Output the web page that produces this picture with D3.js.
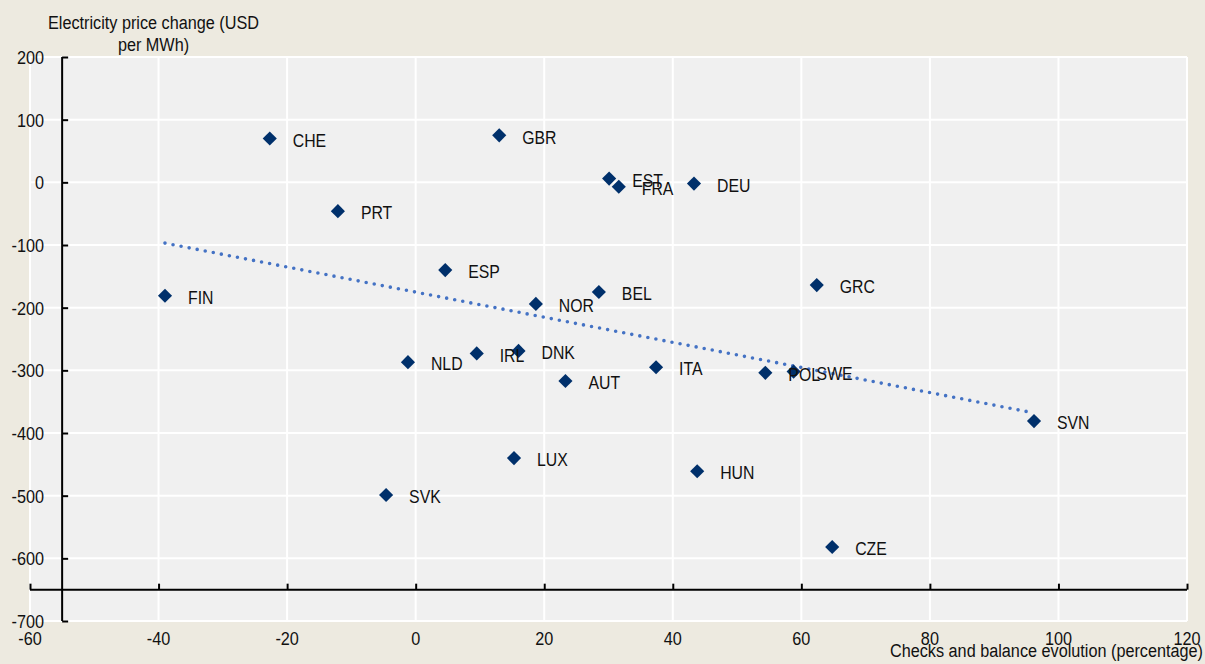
<!DOCTYPE html>
<html>
<head>
<meta charset="utf-8">
<script src="https://cdn.jsdelivr.net/npm/d3@7"></script>
<style>
  html, body { margin: 0; padding: 0; background: #edeae0; }
  svg { display: block; }
  text { font-family: "Liberation Sans", Arial, sans-serif; fill: #111; }
</style>
</head>
<body>
<svg id="chart" width="1205" height="664"></svg>
<script>
// Country codes and their values
const countries = ["CHE","GBR","EST","FRA","DEU","PRT","ESP","FIN","NOR","BEL","GRC","NLD","IRL","DNK","AUT","ITA","POL","SWE","SVN","LUX","HUN","SVK","CZE"];
// Checks and balance evolution (percentage)
const checksChange = [-22.7, 13.0, 30.1, 31.6, 43.3, -12.1, 4.6, -39.0, 18.7, 28.5, 62.4, -1.2, 9.5, 16.0, 23.3, 37.4, 54.4, 58.8, 96.2, 15.3, 43.8, -4.6, 64.8];
// Electricity price change (USD per MWh)
const priceChange = [70, 75, 6, -7, -2, -46, -140, -181, -194, -175, -164, -287, -273, -269, -317, -295, -304, -302, -381, -440, -461, -499, -582];
// Linear trend end points
const trendX = [-39.0, 96.2];
const trendY = [-97, -368];
// Axis ticks
const xTicks = [-60, -40, -20, 0, 20, 40, 60, 80, 100, 120];
const yTicks = [200, 100, 0, -100, -200, -300, -400, -500, -600, -700];

const NARROW = 0.855; // horizontal squeeze for a condensed look

const svg = d3.select("#chart");
const x = d3.scaleLinear().domain([-60, 120]).range([30, 1187]);
const y = d3.scaleLinear().domain([-700, 200]).range([621, 57]);

// place a condensed text at (px, py)
function narrowText(sel, px, py) {
  return sel.attr("transform", (d, i) => {
    const X = typeof px === "function" ? px(d, i) : px;
    const Y = typeof py === "function" ? py(d, i) : py;
    return `translate(${X},${Y}) scale(${NARROW},1)`;
  });
}

// plot background
svg.append("rect")
  .attr("x", x(-60)).attr("y", y(200))
  .attr("width", x(120) - x(-60)).attr("height", y(-700) - y(200))
  .attr("fill", "#f0f0f0");

// gridlines
svg.append("g").selectAll("line").data(xTicks).join("line")
  .attr("x1", d => x(d)).attr("x2", d => x(d))
  .attr("y1", y(200)).attr("y2", y(-700))
  .attr("stroke", "#fff").attr("stroke-width", 2);
svg.append("g").selectAll("line").data(yTicks).join("line")
  .attr("x1", x(-60)).attr("x2", x(120))
  .attr("y1", d => y(d)).attr("y2", d => y(d))
  .attr("stroke", "#fff").attr("stroke-width", 2);

// y axis, crossing at x = -55
const yAxis = svg.append("g").attr("transform", `translate(${x(-55)},0)`)
  .call(d3.axisRight(y).tickValues(yTicks).tickSize(6).tickFormat(""));
yAxis.selectAll("path, line").attr("stroke", "#000").attr("stroke-width", 2);
yAxis.select(".domain").attr("d", `M0,${y(200)}V${y(-700)}`);

// x axis, crossing at y = -650
const xAxis = svg.append("g").attr("transform", `translate(0,${y(-650)})`)
  .call(d3.axisTop(x).tickValues(xTicks).tickSize(6).tickFormat(""));
xAxis.selectAll("path, line").attr("stroke", "#000").attr("stroke-width", 2);
xAxis.select(".domain").attr("d", `M${x(-60)},0H${x(120)}`);

// tick labels
narrowText(svg.append("g").selectAll("text").data(yTicks).join("text"), 44, d => y(d))
  .attr("dy", "0.36em").attr("text-anchor", "end").attr("font-size", 19)
  .text(d => d);
narrowText(svg.append("g").selectAll("text").data(xTicks).join("text"), d => x(d), 645)
  .attr("text-anchor", "middle").attr("font-size", 19)
  .text(d => d);

// axis titles
const yTitle = narrowText(svg.append("text"), 153.5, 0).attr("text-anchor", "middle").attr("font-size", 19);
yTitle.append("tspan").attr("x", 0).attr("y", 29).text("Electricity price change (USD");
yTitle.append("tspan").attr("x", 0).attr("y", 51.5).text("per MWh)");
narrowText(svg.append("text"), 1203, 657).attr("text-anchor", "end")
  .attr("font-size", 19).text("Checks and balance evolution (percentage)");

// trend line (dotted)
svg.append("path")
  .attr("d", d3.line()([[x(trendX[0]), y(trendY[0])], [x(trendX[1]), y(trendY[1])]]))
  .attr("fill", "none").attr("stroke", "#4472c4").attr("stroke-width", 3.6)
  .attr("stroke-linecap", "round").attr("stroke-dasharray", "0 8.2");

// points
const data = countries.map((c, i) => ({ c, vx: checksChange[i], vy: priceChange[i] }));
const diamond = d3.symbol(d3.symbolSquare, 100);
svg.append("g").selectAll("path").data(data).join("path")
  .attr("d", diamond)
  .attr("transform", d => `translate(${x(d.vx)},${y(d.vy)}) rotate(45)`)
  .attr("fill", "#00306b");

// labels
narrowText(svg.append("g").selectAll("text").data(data).join("text"), d => x(d.vx) + 23, d => y(d.vy) + 1.5)
  .attr("dy", "0.36em").attr("font-size", 18.5)
  .text(d => d.c);
</script>
</body>
</html>
